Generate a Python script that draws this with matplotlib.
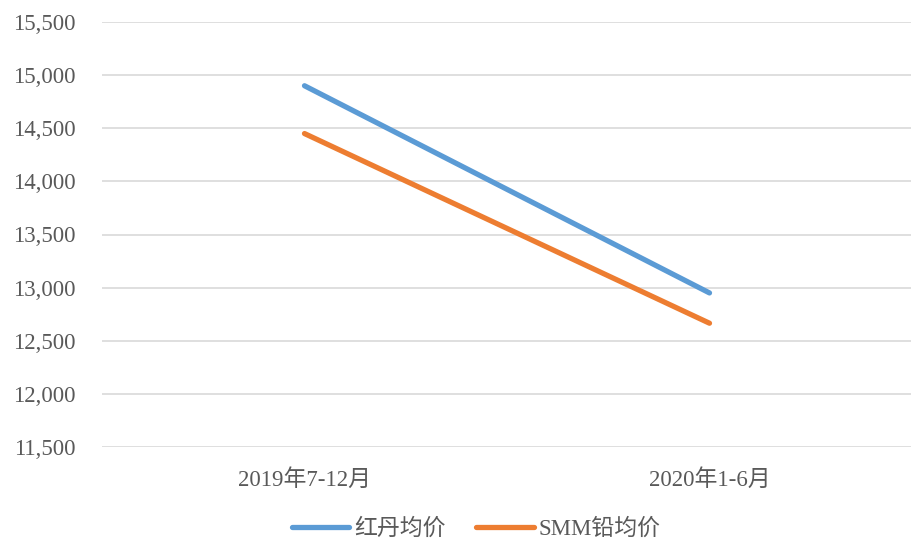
import matplotlib.pyplot as plt
from matplotlib.ticker import FuncFormatter

# 数据
periods = ['2019年7-12月', '2020年1-6月']
hongdan = [14900, 12950]
smm_lead = [14450, 12665]
yticks = list(range(11500, 15501, 500))

plt.rcParams['font.family'] = ['Liberation Serif', 'Noto Sans CJK SC']

fig = plt.figure(figsize=(9.12, 5.41), dpi=100)
ax = fig.add_axes([102 / 912, 1 - 447 / 541, 810 / 912, 425 / 541])

x = range(len(periods))
ax.plot(x, hongdan, color='#5B9BD5', lw=3.8, solid_capstyle='round', label='红丹均价')
ax.plot(x, smm_lead, color='#ED7D31', lw=3.8, solid_capstyle='round', label='SMM铅均价')

ax.set_xlim(-0.5, 1.5)
ax.set_ylim(11500, 15500)
ax.set_yticks(yticks)
ax.yaxis.set_major_formatter(FuncFormatter(lambda v, p: f'{int(v):,}'))
ax.set_xticks(list(x))
ax.set_xticklabels(periods)
ax.grid(axis='y', color='#d9d9d9', lw=1.2)
ax.set_axisbelow(True)
for s in ax.spines.values():
    s.set_visible(False)
ax.tick_params(axis='y', length=0, pad=19, labelsize=16.5, labelcolor='#595959')
ax.tick_params(axis='x', length=0, pad=16, labelsize=16.5, labelcolor='#595959')

leg = fig.legend(loc='center', bbox_to_anchor=(476 / 912, 1 - 529 / 541), ncol=2, frameon=False,
                 fontsize=16.5, handlelength=2.5, columnspacing=1.35, handletextpad=0.2,
                 borderaxespad=0, borderpad=0)
for t in leg.get_texts():
    t.set_color('#595959')

fig.savefig('out.png', dpi=100)
